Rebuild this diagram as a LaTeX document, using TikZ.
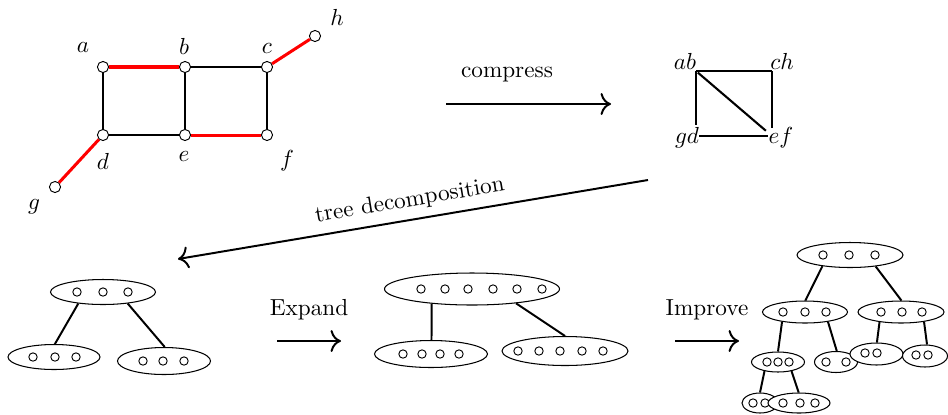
\documentclass[tikz,border=0pt]{standalone}
\usetikzlibrary{shapes.geometric,arrows.meta}
\begin{document}
\begin{tikzpicture}[x=0.431pt,y=-0.431pt,
  vtx/.style={circle,draw,fill=white,inner sep=0pt,minimum size=4.8pt,line width=0.4pt},
  bedge/.style={line width=0.9pt},
  redge/.style={line width=1.3pt,red},
  bag/.style 2 args={ellipse,draw,fill=white,inner sep=0pt,line width=0.45pt,minimum width=#1*0.431pt,minimum height=#2*0.431pt},
  dot/.style={circle,draw,inner sep=0pt,minimum size=3.6pt,line width=0.4pt},
  tedge/.style={line width=0.85pt},
  arr/.style={-{To[scale=1.3]},line width=0.85pt},
  lbl/.style={inner sep=0pt}]
\useasboundingbox (0,0) rectangle (948,414);

% ---- original graph
\node[vtx] (va) at (103,67) {};
\node[vtx] (vb) at (185,67) {};
\node[vtx] (vc) at (267,67) {};
\node[vtx] (vd) at (103,135) {};
\node[vtx] (ve) at (185,135) {};
\node[vtx] (vf) at (267,135) {};
\node[vtx] (vg) at (55,187) {};
\node[vtx] (vh) at (315,36) {};
\draw[redge] (va) -- (vb);
\draw[redge] (ve) -- (vf);
\draw[redge] (vc) -- (vh);
\draw[redge] (vd) -- (vg);
\draw[bedge] (va) -- (vd);
\draw[bedge] (vb) -- (ve);
\draw[bedge] (vc) -- (vf);
\draw[bedge] (vb) -- (vc);
\draw[bedge] (vd) -- (ve);
\node[lbl] (la) at (83,47) {$a$};
\node[lbl] (lb) at (184,46) {$b$};
\node[lbl] (lc) at (267,48) {$c$};
\node[lbl] (ld) at (103,161) {$d$};
\node[lbl] (le) at (184,156) {$e$};
\node[lbl] (lf) at (287,161) {$f$};
\node[lbl] (lg) at (34,207) {$g$};
\node[lbl] (lh) at (337,17) {$h$};

% ---- compress
\coordinate (cs) at (446,104);
\coordinate (ce) at (611,104);
\draw[arr] (cs) -- (ce);
\node (compress) at (507,75) {compress};

% ---- compressed graph
\coordinate (AB) at (696,71);
\coordinate (CH) at (772,71);
\coordinate (GD) at (696,136);
\coordinate (EF) at (772,136);
\draw[bedge] (AB) -- (CH);
\draw[bedge,shorten >=4.7pt] (AB) -- (GD);
\draw[bedge,shorten <=1.3pt,shorten >=1.7pt] (GD) -- (EF);
\draw[bedge,shorten >=3.4pt] (CH) -- (EF);
\draw[bedge,shorten <=1pt,shorten >=3.5pt] (AB) -- (EF);
\node[lbl] (lab) at (685,61) {$ab$};
\node[lbl] (lch) at (782,61) {$ch$};
\node[lbl] (lgd) at (687,138) {$gd$};
\node[lbl] (lef) at (781,138) {$ef$};

% ---- tree decomposition arrow
\coordinate (tds) at (648,180);
\coordinate (tde) at (178,259);
\draw[arr] (tds) -- node[midway,above,sloped] {tree decomposition} (tde);

% ---- first tree
\node[bag={105}{25}] (r1) at (103,292) {};
\foreach \x [count=\i] in {77,103,128} \node[dot] (r1d\i) at (\x,292) {};
\node[bag={92}{25}] (r1l) at (54,357) {};
\foreach \x [count=\i] in {33,55,76} \node[dot] (r1ld\i) at (\x,357) {};
\node[bag={93}{27}] (r1r) at (164,361) {};
\foreach \x [count=\i] in {143,163,184} \node[dot] (r1rd\i) at (\x,361) {};
\draw[tedge] (r1.205) -- (r1l.86);
\draw[tedge] (r1.335) -- (r1r.87);

% ---- Expand
\coordinate (es) at (277,341);
\coordinate (ee) at (341,341);
\draw[arr] (es) -- (ee);
\node (expand) at (309,310) {Expand};

% ---- middle tree
\node[bag={175}{32}] (m0) at (472,289) {};
\foreach \x [count=\i] in {421,445,468,493,517,542} \node[dot] (m0d\i) at (\x,289) {};
\node[bag={113}{27}] (m1) at (431,354) {};
\foreach \x [count=\i] in {403,422,440,459} \node[dot] (m1d\i) at (\x,354) {};
\node[bag={126}{29}] (m2) at (565,351) {};
\foreach \x [count=\i] in {518,539,560,582,603} \node[dot] (m2d\i) at (\x,351) {};
\draw[tedge] (m0.200) -- (m1.88);
\draw[tedge] (m0.342) -- (m2.90);

% ---- Improve
\coordinate (is) at (675,341);
\coordinate (ie) at (739,341);
\draw[arr] (is) -- (ie);
\node (improve) at (707,310) {Improve};

% ---- improved tree
\node[bag={106}{25}] (t0) at (850,255) {};
\foreach \x [count=\i] in {823,849,875} \node[dot] (t0d\i) at (\x,255) {};
\node[bag={85}{22}] (t1) at (805,312) {};
\foreach \x [count=\i] in {783,805,826} \node[dot] (t1d\i) at (\x,312) {};
\node[bag={86}{22}] (t2) at (901,312) {};
\foreach \x [count=\i] in {881,902,922} \node[dot] (t2d\i) at (\x,312) {};
\node[bag={53}{20}] (t3) at (778,362) {};
\foreach \x [count=\i] in {767,778,789} \node[dot] (t3d\i) at (\x,362) {};
\node[bag={43}{21}] (t4) at (836,362) {};
\foreach \x [count=\i] in {826,846} \node[dot] (t4d\i) at (\x,362) {};
\node[bag={53}{22}] (t5) at (876.5,354) {};
\foreach \x [count=\i] in {865,877} \node[dot] (t5d\i) at (\x,353) {};
\node[bag={45}{22}] (t6) at (925,356) {};
\foreach \x [count=\i] in {916,928} \node[dot] (t6d\i) at (\x,355) {};
\node[bag={36}{20}] (t7) at (760,403) {};
\foreach \x [count=\i] in {753,765} \node[dot] (t7d\i) at (\x,403) {};
\node[bag={62}{20}] (t8) at (799,403) {};
\foreach \x [count=\i] in {783,800,815} \node[dot] (t8d\i) at (\x,403) {};
\draw[tedge] (t0.202) -- (t1.88);
\draw[tedge] (t0.336) -- (t2.88);
\draw[tedge] (t1.203) -- (t3.90);
\draw[tedge] (t1.337) -- (t4.86);
\draw[tedge] (t2.205) -- (t5.88);
\draw[tedge] (t2.337) -- (t6.80);
\draw[tedge] (t3.214) -- (t7.90);
\draw[tedge] (t3.326) -- (t8.92);
\end{tikzpicture}
\end{document}
